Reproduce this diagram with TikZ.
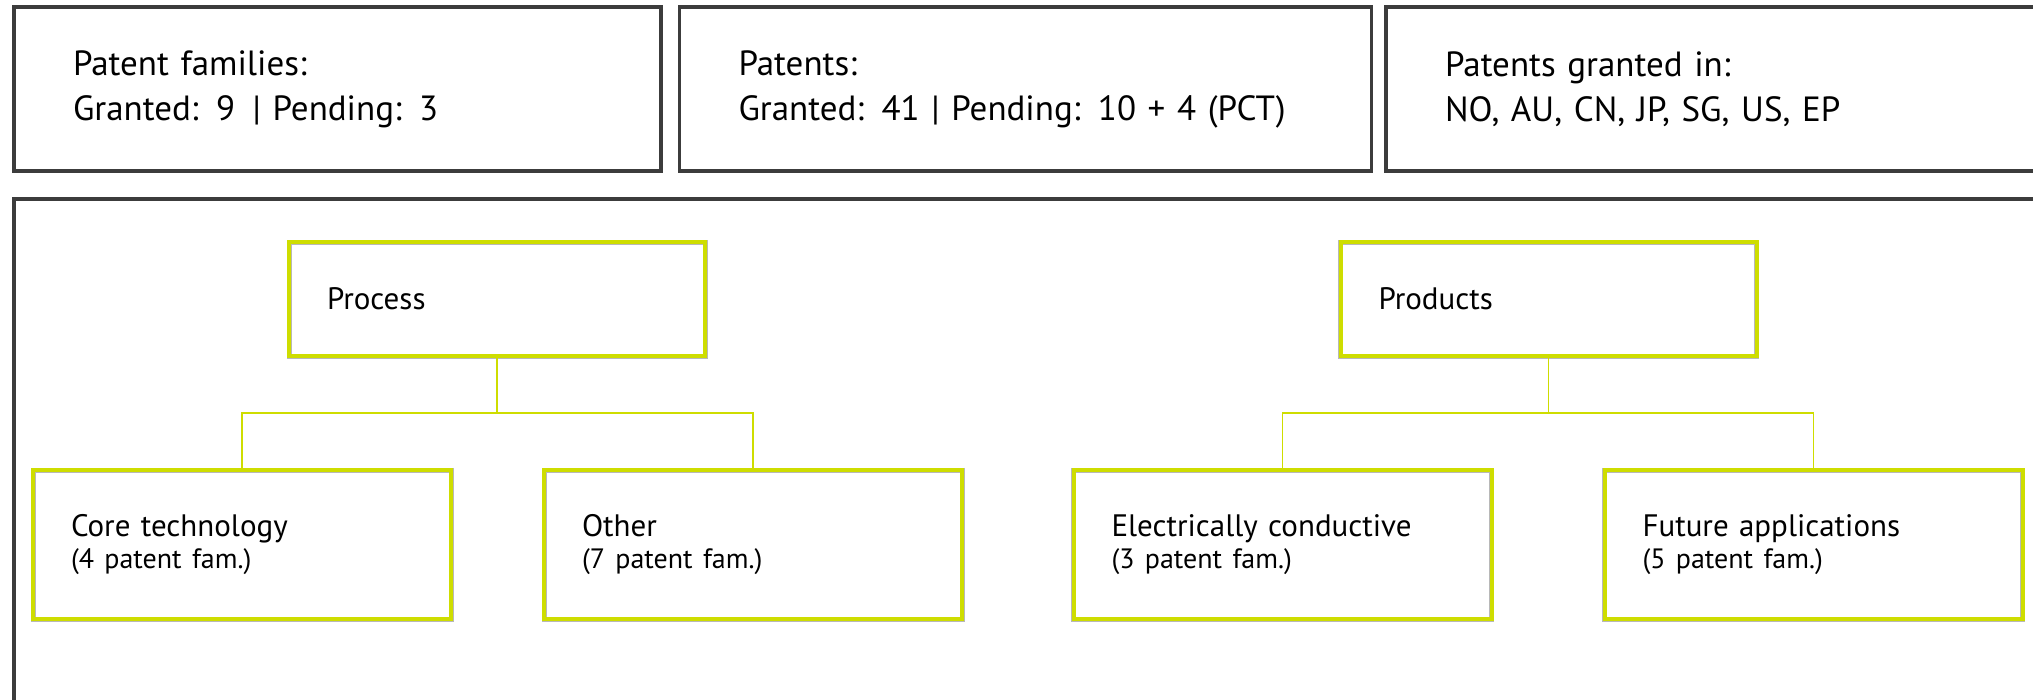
\documentclass[tikz,border=0pt]{standalone}
\usepackage{fontspec}
\setmainfont{PT Sans}[WordSpace=0.75]
\definecolor{frame}{RGB}{60,60,60}
\definecolor{lime}{RGB}{206,221,0}
\begin{document}
\begin{tikzpicture}[x=1pt,y=-1pt,
  topbox/.style={draw=frame, line width=3.6pt, rectangle, inner xsep=59pt, inner ysep=0pt,
     minimum height=164pt, align=left, font=\fontsize{35}{45}\selectfont},
  greenbox/.style={draw=lime, line width=4pt, rectangle, inner xsep=38pt, inner ysep=0pt,
     align=left, preaction={draw=black!28, line width=5pt}},
  parentbox/.style={greenbox, minimum height=114pt, text width=340pt, font=\fontsize{31}{36}\selectfont},
  childbox/.style={greenbox, minimum height=149pt, text width=342pt, font=\fontsize{31}{32}\selectfont},
  link/.style={draw=lime, line width=1.5pt}]
\useasboundingbox (0,0) rectangle (2033,699);
\clip (0,0) rectangle (2033,699);
% top information boxes
\node[topbox, text width=529pt] (fam) at (337.5,89) {Patent families:\\Granted: 9 \,| Pending: 3};
\node[topbox, text width=574pt] (pat) at (1025.5,89) {Patents:\\Granted: 41 | Pending: 10 + 4 (PCT)};
\node[topbox, text width=538pt] (cty) at (1714,89) {Patents granted in:\\NO, AU, CN, JP, SG, US, EP};
% outer frame of the lower area
\draw[draw=frame, line width=3.6pt] (2060,199) -- (14,199) -- (14,720);
% parent boxes
\node[parentbox] (proc) at (497,299) {Process};
\node[parentbox] (prod) at (1548.5,299) {Products};
% child boxes
\node[childbox] (core) at (242,544.5) {Core technology\\{\fontsize{28}{32}\selectfont (4 patent fam.)}};
\node[childbox] (oth) at (753,544.5) {Other\\{\fontsize{28}{32}\selectfont (7 patent fam.)}};
\node[childbox] (elec) at (1282.5,544.5) {Electrically conductive\\{\fontsize{28}{32}\selectfont (3 patent fam.)}};
\node[childbox] (fut) at (1813.5,544.5) {Future applications\\{\fontsize{28}{32}\selectfont (5 patent fam.)}};
% connectors
\coordinate (pj) at (497,413);
\coordinate (qj) at (1548.5,413);
\draw[link] (proc.south) -- (pj);
\draw[link] (core.north) |- (pj) -| (oth.north);
\draw[link] (prod.south) -- (qj);
\draw[link] (elec.north) |- (qj) -| (fut.north);
\end{tikzpicture}
\end{document}
